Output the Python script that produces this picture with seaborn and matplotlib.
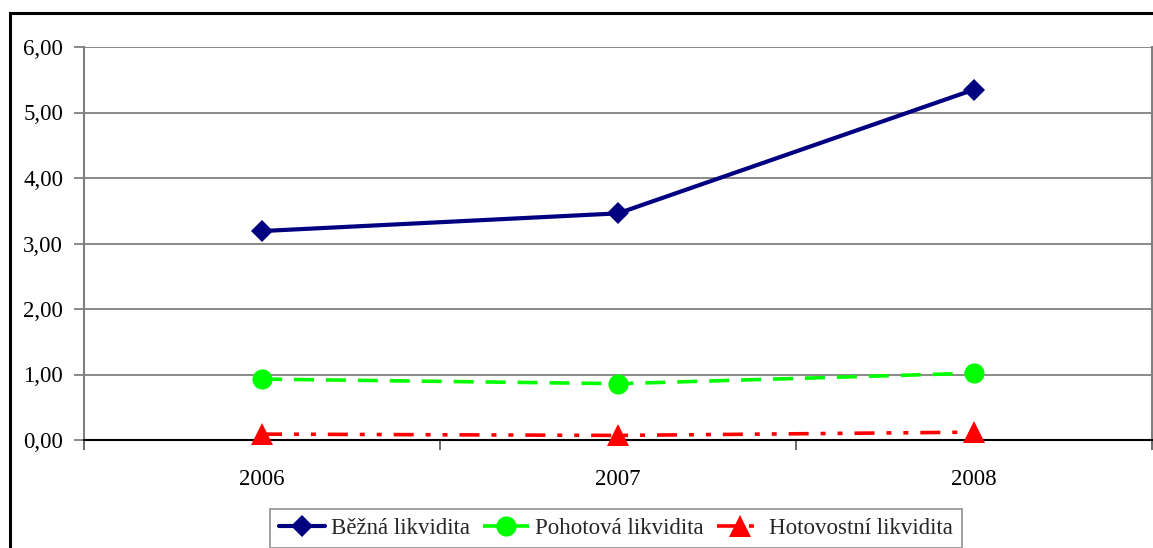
import matplotlib
matplotlib.use("Agg")
import matplotlib.pyplot as plt
import matplotlib.ticker as mticker
from matplotlib.patches import Rectangle
import seaborn as sns
import numpy as np

# Liquidity ratios by year
years = ["2006", "2007", "2008"]
bezna = [3.19, 3.46, 5.35]
pohotova = [0.93, 0.86, 1.02]
hotovostni = [0.09, 0.07, 0.12]
series_names = ["Běžná likvidita", "Pohotová likvidita", "Hotovostní likvidita"]

sns.set_theme(style="white")
plt.rcParams["font.family"] = ["Liberation Serif", "DejaVu Serif"]
plt.rcParams["lines.scale_dashes"] = False

W, H = 1153, 548
fig = plt.figure(figsize=(W / 100, H / 100), dpi=100)
ax = fig.add_axes([84 / W, 1 - 440 / H, (1152 - 84) / W, (440 - 47) / H])

pos = np.arange(len(years))

sns.lineplot(x=pos, y=bezna, ax=ax, color="#000080", lw=3.0, marker="D",
             markersize=11.5, markeredgewidth=0, label=series_names[0])
sns.lineplot(x=pos, y=pohotova, ax=ax, color="#00FF00", lw=2.6, marker="o",
             markersize=14.5, markeredgewidth=0, label=series_names[1])
sns.lineplot(x=pos, y=hotovostni, ax=ax, color="#FF0000", lw=2.6, marker="^",
             markersize=16, markeredgewidth=0, label=series_names[2])

ax.lines[1].set_linestyle((0, (14.4, 8.6)))
ax.lines[2].set_linestyle((0, (14.4, 8.6, 3.6, 8.6, 3.6, 8.6)))
for ln in ax.lines:
    ln.set_clip_on(False)
    ln.set_zorder(3)

ax.set_xlim(-0.5, len(years) - 0.5)
ax.set_ylim(0, 6)
ax.yaxis.set_major_locator(mticker.MultipleLocator(1))
ax.yaxis.set_major_formatter(mticker.FuncFormatter(lambda v, p: f"{v:.2f}".replace(".", ",")))
ax.grid(axis="y", color="#808080", lw=1.3)
ax.set_axisbelow(True)

# category labels centred, tick marks on the boundaries
ax.set_xticks(pos)
ax.set_xticklabels(years)
ax.set_xticks(np.arange(-0.5, len(years)), minor=True)
ax.tick_params(axis="x", which="major", length=0, pad=21, labelsize=16.5, colors="black")
ax.tick_params(axis="x", which="minor", length=7, width=1.3, color="#606060", direction="out")
ax.tick_params(axis="y", length=7, width=1.3, color="#808080", direction="out",
               pad=8, labelsize=16.5, labelcolor="black")
ax.tick_params(axis="both", bottom=True, left=True, which="both")

for side in ["left", "right", "top"]:
    ax.spines[side].set_color("#808080")
    ax.spines[side].set_linewidth(1.5)
ax.spines["bottom"].set_color("black")
ax.spines["bottom"].set_linewidth(1.5)
ax.spines["top"].set_visible(False)
ax.set_xlabel("")
ax.set_ylabel("")

handles, labels = ax.get_legend_handles_labels()
ax.get_legend().remove()
leg = fig.legend(handles, labels, loc="lower center",
                 bbox_to_anchor=((272 + 960) / 2 / W, 0 / H), ncol=3,
                 frameon=True, fancybox=False, shadow=False, fontsize=16.5,
                 handlelength=2.0, handletextpad=0.25, columnspacing=0.6,
                 borderpad=0.4, numpoints=1, borderaxespad=0)
leg.get_frame().set_edgecolor("#808080")
leg.get_frame().set_linewidth(1.3)

# outer chart frame
fig.patches.append(Rectangle((10 / W, -0.1), 1.2, 1 - 13 / H + 0.1,
                             transform=fig.transFigure, fill=False,
                             edgecolor="black", lw=2.2))

fig.savefig("out.png", dpi=100)
